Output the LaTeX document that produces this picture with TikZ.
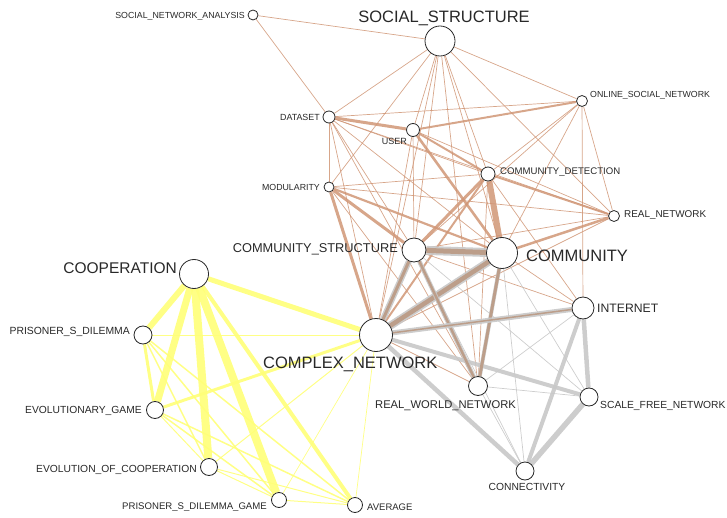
\documentclass[tikz,border=0pt]{standalone}
\usepackage{fontspec}
\setmainfont{Liberation Sans}
\usetikzlibrary{backgrounds}
\definecolor{brn}{RGB}{208,150,118}
\definecolor{gry}{RGB}{200,200,200}
\definecolor{ylw}{RGB}{255,255,120}
\definecolor{mixb}{RGB}{188,158,138}
\definecolor{txt}{RGB}{40,40,40}
\newcommand{\fsz}[1]{\fontsize{#1}{#1}\selectfont}
\tikzset{
  kw/.style={circle,draw=txt,fill=white,line width=0.8pt,inner sep=0pt},
  lb/.style={text=txt,inner sep=0pt},
  br/.style={draw=brn,line width=#1,opacity=.85}, br/.default=0.7,
  gr/.style={draw=gry,line width=#1,opacity=.9}, gr/.default=0.7,
  yl/.style={draw=ylw,line width=#1,opacity=.9}, yl/.default=0.7,
  mx/.style={draw=mixb,line width=#1},
}
\begin{document}
\begin{tikzpicture}[x=1pt,y=-1pt]
\useasboundingbox (0,0) rectangle (727,518);
% nodes
\node[kw,minimum size=10pt] (sna) at (253,15) {};
\node[kw,minimum size=30pt] (ss) at (440,41) {};
\node[kw,minimum size=11pt] (osn) at (582,101) {};
\node[kw,minimum size=12pt] (ds) at (329,117) {};
\node[kw,minimum size=13pt] (us) at (413,130) {};
\node[kw,minimum size=14pt] (cd) at (488,174) {};
\node[kw,minimum size=10pt] (mo) at (329,187) {};
\node[kw,minimum size=11pt] (rn) at (614,216) {};
\node[kw,minimum size=24pt] (cs) at (414,250) {};
\node[kw,minimum size=31pt] (cm) at (502,253) {};
\node[kw,minimum size=22pt] (in) at (583,308) {};
\node[kw,minimum size=19pt] (rw) at (478,386) {};
\node[kw,minimum size=18pt] (sf) at (589,397) {};
\node[kw,minimum size=18pt] (co) at (525,471) {};
\node[kw,minimum size=29pt] (cp) at (194,274) {};
\node[kw,minimum size=18pt] (pd) at (143,335) {};
\node[kw,minimum size=33pt] (cn) at (376,335) {};
\node[kw,minimum size=17pt] (eg) at (155,410) {};
\node[kw,minimum size=17pt] (eo) at (209,467) {};
\node[kw,minimum size=15pt] (pg) at (279,500) {};
\node[kw,minimum size=15pt] (av) at (355,505) {};
% labels
\node[lb,font=\fsz{8.8},anchor=base east] (snaL) at (245,18.2) {SOCIAL\_NETWORK\_ANALYSIS};
\node[lb,font=\fsz{16.5},anchor=base] (ssL) at (444,22.2) {SOCIAL\_STRUCTURE};
\node[lb,font=\fsz{8.8},anchor=base west] (osnL) at (590,98) {ONLINE\_SOCIAL\_NETWORK};
\node[lb,font=\fsz{8.9},anchor=base east] (dsL) at (320,120.2) {DATASET};
\node[lb,font=\fsz{9},anchor=base east] (usL) at (407,144.2) {USER};
\node[lb,font=\fsz{9.6},anchor=base west] (cdL) at (500,174.4) {COMMUNITY\_DETECTION};
\node[lb,font=\fsz{8.8},anchor=base east] (moL) at (320,190.2) {MODULARITY};
\node[lb,font=\fsz{9.9},anchor=base west] (rnL) at (624,217.5) {REAL\_NETWORK};
\node[lb,font=\fsz{12.8},anchor=base east] (csL) at (398,252.6) {COMMUNITY\_STRUCTURE};
\node[lb,font=\fsz{16.5},anchor=base west] (cmL) at (526,261.7) {COMMUNITY};
\node[lb,font=\fsz{15.5},anchor=base east] (cpL) at (177,273.5) {COOPERATION};
\node[lb,font=\fsz{12.2},anchor=base west] (inL) at (597,312.4) {INTERNET};
\node[lb,font=\fsz{10.4},anchor=base east] (pdL) at (130,334.7) {PRISONER\_S\_DILEMMA};
\node[lb,font=\fsz{16.5},anchor=base west] (cnL) at (263,368.9) {COMPLEX\_NETWORK};
\node[lb,font=\fsz{11.2},anchor=base] (rwL) at (445.5,408) {REAL\_WORLD\_NETWORK};
\node[lb,font=\fsz{10.3},anchor=base west] (sfL) at (600,408.7) {SCALE\_FREE\_NETWORK};
\node[lb,font=\fsz{10.3},anchor=base east] (egL) at (142,413.7) {EVOLUTIONARY\_GAME};
\node[lb,font=\fsz{10.3},anchor=base east] (eoL) at (197,472.7) {EVOLUTION\_OF\_COOPERATION};
\node[lb,font=\fsz{10.3},anchor=base] (coL) at (527,490.7) {CONNECTIVITY};
\node[lb,font=\fsz{9.6},anchor=base east] (pgL) at (267,509.4) {PRISONER\_S\_DILEMMA\_GAME};
\node[lb,font=\fsz{9.5},anchor=base west] (avL) at (367,510.4) {AVERAGE};
% edges
\begin{scope}[on background layer]
% brown cluster
\draw[br] (ss)--(sna); \draw[br] (ss)--(osn); \draw[br] (ss)--(ds);
\draw[br] (ss)--(mo); \draw[br] (ss)--(us); \draw[br] (ss)--(cs);
\draw[br] (ss)--(cm); \draw[br] (ss)--(cd); \draw[br] (ss)--(cn);
\draw[br] (ss)--(rw); \draw[br] (ss)--(rn);
\draw[br] (sna)--(ds);
\draw[br] (ds)--(osn); \draw[br=3] (ds)--(us); \draw[br] (ds)--(cd);
\draw[br] (ds)--(cm); \draw[br] (ds)--(cs); \draw[br] (ds)--(cn);
\draw[br] (ds)--(rn); \draw[br] (ds)--(rw); \draw[br] (ds)--(mo);
\draw[br=2] (us)--(osn); \draw[br=2] (us)--(cd); \draw[br=2.6] (us)--(cm);
\draw[br] (us)--(cs); \draw[br] (us)--(cn); \draw[br] (us)--(rn);
\draw[br] (cd)--(osn); \draw[br=6] (cd)--(cm); \draw[br=3] (cd)--(cs);
\draw[br=2] (cd)--(rn); \draw[br] (cd)--(mo); \draw[br=2] (cd)--(cn);
\draw[br] (cd)--(in); \draw[br] (cd)--(rw);
\draw[br=3] (mo)--(cs); \draw[br=2.2] (mo)--(cm); \draw[br=3] (mo)--(cn);
\draw[br] (mo)--(rn); \draw[br] (mo)--(rw);
\draw[br=2.5] (rn)--(cm); \draw[br] (rn)--(cs); \draw[br] (rn)--(cn);
\draw[br] (rn)--(osn);
\draw[br] (osn)--(cs); \draw[br] (osn)--(cm); \draw[br] (osn)--(in);
\draw[br] (cm)--(in); \draw[br] (cs)--(in); \draw[br] (cn)--(rw);
% gray cluster
\draw[gr] (cs)--(sf); \draw[gr] (cm)--(sf); \draw[gr] (cm)--(co);
\draw[gr] (cs)--(co);
\draw[gr=4] (cn)--(sf); \draw[gr=4.5] (cn)--(co);
\draw[gr=4.5] (in)--(sf); \draw[gr=4] (in)--(co); \draw[gr] (in)--(rw);
\draw[gr] (rw)--(sf); \draw[gr] (rw)--(co); \draw[gr=5.5] (sf)--(co);
% mixed edges
\draw[gr=9] (cs)--(cm); \draw[mx=5] (cs)--(cm);
\draw[gr=8] (cn)--(cm); \draw[mx=4.5] (cn)--(cm);
\draw[gr=6] (cn)--(cs); \draw[mx=3] (cn)--(cs);
\draw[gr=4.5] (cs)--(rw); \draw[mx=2.5] (cs)--(rw);
\draw[gr=4] (cm)--(rw); \draw[mx=3] (cm)--(rw);
\draw[gr=5] (cn)--(in); \draw[mx=1.5] (cn)--(in);
% yellow cluster
\draw[yl=5] (cp)--(cn); \draw[yl=6] (cp)--(pd); \draw[yl=7] (cp)--(eg);
\draw[yl=8] (cp)--(eo); \draw[yl=8] (cp)--(pg); \draw[yl=4] (cp)--(av);
\draw[yl] (pd)--(cn); \draw[yl=3] (pd)--(eg); \draw[yl=1.5] (pd)--(eo);
\draw[yl=1.5] (pd)--(pg); \draw[yl=1.5] (pd)--(av);
\draw[yl=3] (eg)--(cn); \draw[yl=1] (eg)--(eo); \draw[yl=1.5] (eg)--(pg);
\draw[yl=1.5] (eg)--(av);
\draw[yl=1] (eo)--(cn); \draw[yl=1] (eo)--(pg); \draw[yl=1] (eo)--(av);
\draw[yl=1] (pg)--(av); \draw[yl] (pg)--(cn); \draw[yl] (av)--(cn);
\end{scope}
\end{tikzpicture}
\end{document}
